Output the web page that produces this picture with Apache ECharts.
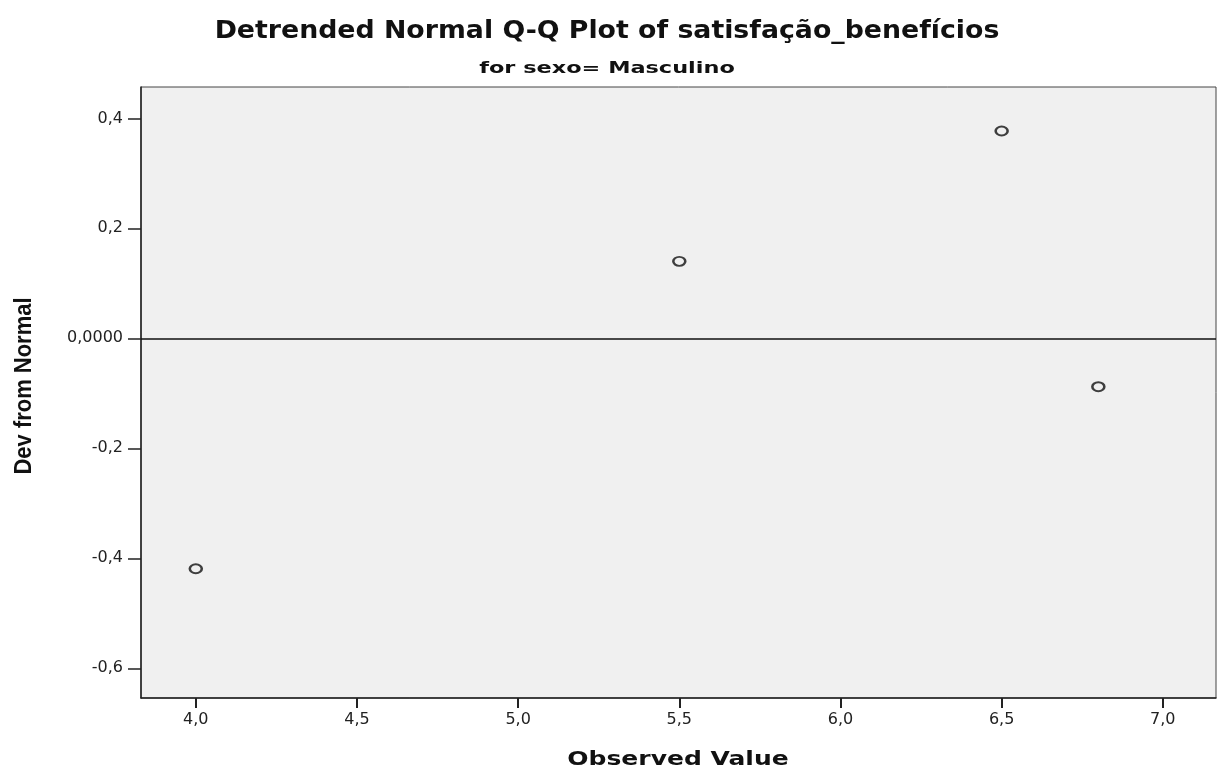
<!DOCTYPE html>
<html>
<head>
<meta charset="utf-8">
<script src="https://cdn.jsdelivr.net/npm/echarts@6/dist/echarts.min.js"></script>
<style>
  html, body { margin: 0; padding: 0; background: #ffffff; }
  #chart { width: 1220px; height: 774px; }
</style>
</head>
<body>
<div id="chart"></div>
<script>
// Observed values and their deviation from the fitted normal
const observedValues = [4.0, 5.5, 6.5, 6.8];
const devFromNormal = [-0.419, 0.140, 0.377, -0.088];

const xTicks = [4.0, 4.5, 5.0, 5.5, 6.0, 6.5, 7.0];
const yTicks = [-0.6, -0.4, -0.2, 0.0, 0.2, 0.4];

const titleText = 'Detrended Normal Q-Q Plot of satisfação_benefícios';
const subtitleText = 'for sexo= Masculino';
const xAxisTitle = 'Observed Value';
const yAxisTitle = 'Dev from Normal';

const points = observedValues.map((v, i) => [v, devFromNormal[i]]);

const fmtComma = (v, d) => v.toFixed(d).replace('.', ',');

// wide bold heading text, horizontally stretched a little
function headingText(text, x, y, size, sx, family) {
  return {
    type: 'text',
    x: x, y: y,
    scaleX: sx,
    silent: true,
    style: {
      text: text,
      font: 'bold ' + size + 'px "' + (family || 'DejaVu Sans') + '"',
      fill: '#111',
      textAlign: 'center',
      textVerticalAlign: 'middle'
    }
  };
}

const chart = echarts.init(document.getElementById('chart'), null, { renderer: 'canvas' });

chart.setOption({
  backgroundColor: '#ffffff',
  animation: false,
  graphic: [
    headingText(titleText, 607, 32, 24, 1.115),
    headingText(subtitleText, 607, 69, 16, 1.4),
    headingText(xAxisTitle, 678, 760, 20, 1.25),
    Object.assign(headingText(yAxisTitle, 25, 386, 23, 0.955, 'Liberation Sans'), { rotation: Math.PI / 2 })
  ],
  grid: {
    left: 141,
    right: 4,
    top: 87,
    bottom: 76,
    show: true,
    backgroundColor: '#f0f0f0',
    borderColor: '#444',
    borderWidth: 1
  },
  xAxis: {
    type: 'value',
    min: 3.83,
    max: 7.165,
    axisLine: { show: true, onZero: false, lineStyle: { color: '#222', width: 1.5 } },
    axisTick: {
      show: true, length: 10, lineStyle: { color: '#222', width: 2 },
      customValues: xTicks
    },
    axisLabel: {
      customValues: xTicks,
      fontFamily: 'DejaVu Sans', fontSize: 16, color: '#222', margin: 14,
      formatter: v => fmtComma(v, 1)
    },
    splitLine: { show: false }
  },
  yAxis: {
    type: 'value',
    min: -0.654,
    max: 0.457,
    axisLine: { show: true, onZero: false, lineStyle: { color: '#222', width: 1.5 } },
    axisTick: {
      show: true, length: 13, lineStyle: { color: '#222', width: 1.5 },
      customValues: yTicks
    },
    axisLabel: {
      customValues: yTicks,
      fontFamily: 'DejaVu Sans', fontSize: 16, color: '#222', margin: 18,
      formatter: v => (Math.abs(v) < 1e-9 ? '0,0000' : fmtComma(v, 1))
    },
    splitLine: { show: false }
  },
  series: [
    {
      type: 'scatter',
      data: points,
      symbol: 'circle',
      symbolSize: [12, 9],
      itemStyle: { color: '#f0f0f0', borderColor: '#111', borderWidth: 2.2 },
      markLine: {
        silent: true,
        symbol: ['none', 'none'],
        label: { show: false },
        lineStyle: { color: '#111', width: 1.5, type: 'solid' },
        data: [{ yAxis: 0 }]
      },
      z: 3
    }
  ]
});
</script>
</body>
</html>
